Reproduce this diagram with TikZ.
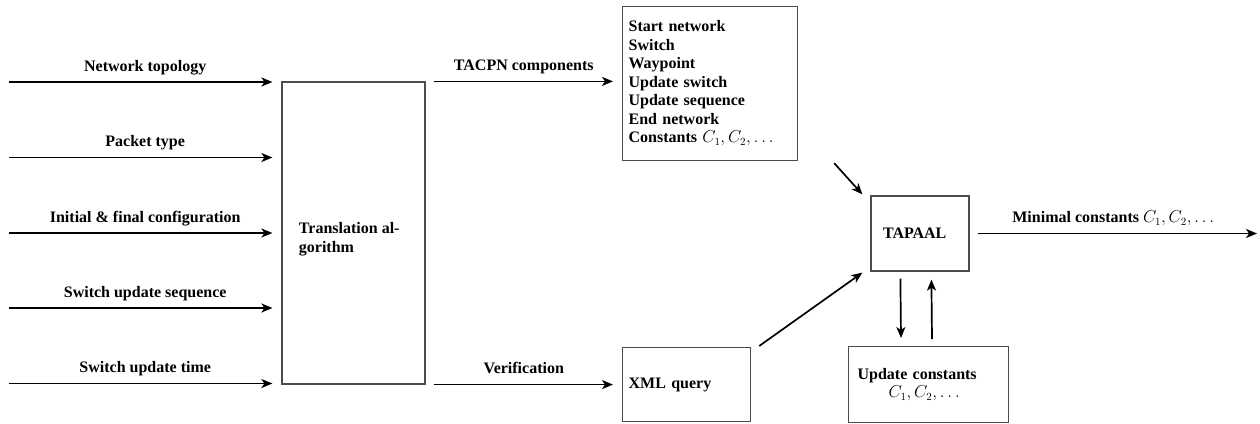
\documentclass[tikz,border=0pt]{standalone}
\usepackage{fontspec}
\setmainfont{Liberation Serif}
\usetikzlibrary{arrows.meta,calc}
\begin{document}
\begin{tikzpicture}[x=1pt,y=-1pt,
  every node/.style={font=\fontsize{16}{18.5}\selectfont\bfseries},
  box/.style={draw=black!70, line width=1.2pt, inner sep=0pt},
  arr/.style={line width=1.7pt, -{Stealth[length=11pt,width=9pt,inset=3pt]}},
  lab/.style={anchor=base, yshift=11pt}]
\useasboundingbox (0,0) rectangle (1260,423);

% boxes
\node[box, minimum width=143pt, minimum height=302pt,
  label={[align=left, anchor=west, xshift=14pt, yshift=-6pt]west:Translation al-\\gorithm}] (trans) at (353.5,233) {};
\node[box, anchor=north west, minimum width=175pt, minimum height=154pt, text width=163pt, inner xsep=6pt, align=left] (comp) at (622,6)
  {Start network\\Switch\\Waypoint\\Update switch\\Update sequence\\End network\\Constants $C_1, C_2, \ldots$};
\node[box, minimum width=98pt, minimum height=75pt, text width=74pt, inner xsep=12pt, align=left] (tapaal) at (920,233.5) {TAPAAL};
\node[box, anchor=north west, minimum width=128pt, minimum height=74pt, text width=116pt, inner xsep=6pt, align=left] (xml) at (622,347) {XML query};
\node[box, anchor=north west, minimum width=160pt, minimum height=76pt, text width=142pt, inner xsep=9pt, align=left] (upd) at (848,346)
  {Update constants\\\hspace*{31pt}$C_1, C_2, \ldots$};

% free ends
\coordinate (i1) at (9,82);
\coordinate (i2) at (9,157.5);
\coordinate (i3) at (9,233);
\coordinate (i4) at (9,308);
\coordinate (i5) at (9,383.5);
\coordinate (out) at (1257,233.5);

\draw[arr, shorten >=9pt] (i1) -- (i1 -| trans.west) node[lab, midway]{Network topology};
\draw[arr, shorten >=9pt] (i2) -- (i2 -| trans.west) node[lab, midway]{Packet type};
\draw[arr, shorten >=9pt] (i3) -- (i3 -| trans.west) node[lab, midway]{Initial \& final configuration};
\draw[arr, shorten >=9pt] (i4) -- (i4 -| trans.west) node[lab, midway]{Switch update sequence};
\draw[arr, shorten >=9pt] (i5) -- (i5 -| trans.west) node[lab, midway]{Switch update time};

\draw[arr, shorten <=8pt, shorten >=9pt] (trans.north east) -- (trans.north east -| comp.west) node[lab, midway]{TACPN components};
\draw[arr, shorten <=8pt, shorten >=9pt] (trans.south east) -- (trans.south east -| xml.west) node[lab, midway]{Verification};
\draw[arr, shorten <=8pt] (tapaal.east) -- (out) node[lab, midway]{Minimal constants $C_1, C_2, \ldots$};

\draw[arr] ($(comp.south east)+(36,2)$) -- ($(tapaal.north west)+(-8,-1)$);
\draw[arr] ($(xml.north east)+(8,-1)$) -- ($(tapaal.south west)+(-8,1)$);
\draw[arr] ($(tapaal.south west)+(30,7)$) -- ($(upd.north west)+(53,-8)$);
\draw[arr] ($(upd.north west)+(84,-7)$) -- ($(tapaal.south west)+(61,8)$);
\end{tikzpicture}
\end{document}
